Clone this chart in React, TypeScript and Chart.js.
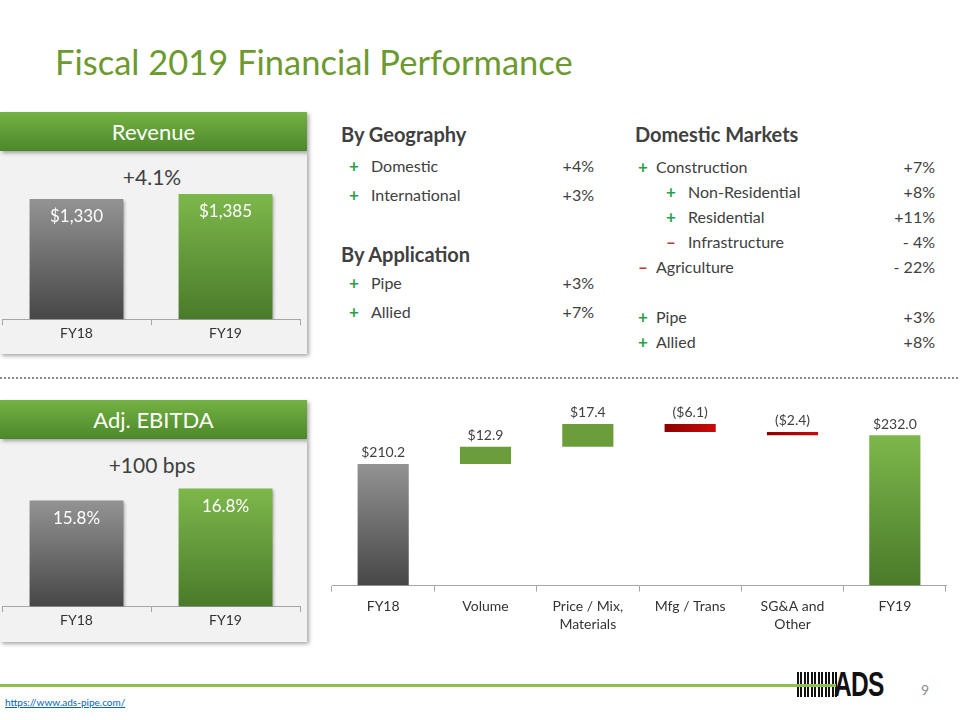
import React, { useEffect, useRef } from "react";
import { Chart, registerables } from "chart.js";
Chart.register(...registerables);

const FONT = "Lato, 'Open Sans', sans-serif";
const TEXT = "#404040";

// ---- data ----
const revenueCategories = ["FY18", "FY19"];
const revenueValues = [1330, 1385];
const revenueValueLabels = ["$1,330", "$1,385"];
const revenueChange = "+4.1%";

const ebitdaCategories = ["FY18", "FY19"];
const ebitdaValues = [15.8, 16.8];
const ebitdaValueLabels = ["15.8%", "16.8%"];
const ebitdaChange = "+100 bps";

const bridgeCategories = ["FY18", "Volume", ["Price / Mix,", "Materials"], "Mfg / Trans", ["SG&A and", "Other"], "FY19"];
const bridgeStart = 210.2;
const bridgeSteps = [12.9, 17.4, -6.1, -2.4];
const bridgeEnd = 232.0;
const bridgeValueLabels = ["$210.2", "$12.9", "$17.4", "($6.1)", "($2.4)", "$232.0"];

const geographyRows = [
  { sign: "+", label: "Domestic", value: "+4%" },
  { sign: "+", label: "International", value: "+3%" },
];
const applicationRows = [
  { sign: "+", label: "Pipe", value: "+3%" },
  { sign: "+", label: "Allied", value: "+7%" },
];
const domesticRows = [
  { sign: "+", label: "Construction", value: "+7%", indent: 0 },
  { sign: "+", label: "Non-Residential", value: "+8%", indent: 1 },
  { sign: "+", label: "Residential", value: "+11%", indent: 1 },
  { sign: "–", label: "Infrastructure", value: "- 4%", indent: 1 },
  { sign: "–", label: "Agriculture", value: "- 22%", indent: 0 },
  { sign: "", label: "", value: "", indent: 0 },
  { sign: "+", label: "Pipe", value: "+3%", indent: 0 },
  { sign: "+", label: "Allied", value: "+8%", indent: 0 },
];

// ---- helpers ----
const GRAY_GRAD = ["#939393", "#474747"];
const GREEN_GRAD = ["#7db84b", "#4a7a2a"];

function ok(...v: number[]) {
  return v.every((n) => typeof n === "number" && isFinite(n));
}

function vGrad(chart: any, top: number, bottom: number, c: string[]) {
  if (!ok(top, bottom)) return c[1];
  const g = chart.ctx.createLinearGradient(0, top, 0, bottom);
  g.addColorStop(0, c[0]);
  g.addColorStop(1, c[1]);
  return g;
}

const shadowPlugin = {
  id: "barShadow",
  beforeDatasetsDraw(chart: any) {
    const ctx = chart.ctx;
    ctx.save();
    ctx.shadowColor = "rgba(0,0,0,0.35)";
    ctx.shadowOffsetX = 2;
    ctx.shadowOffsetY = 2;
    ctx.shadowBlur = 3;
  },
  afterDatasetsDraw(chart: any) {
    chart.ctx.restore();
  },
};

function labelPlugin(labels: string[], inside: boolean) {
  return {
    id: "valueLabels",
    afterDatasetsDraw(chart: any) {
      const ctx = chart.ctx;
      const meta = chart.getDatasetMeta(0);
      ctx.save();
      ctx.textAlign = "center";
      ctx.textBaseline = "middle";
      meta.data.forEach((bar: any, i: number) => {
        const top = Math.min(bar.y, bar.base);
        if (inside) {
          ctx.font = `17px ${FONT}`;
          ctx.fillStyle = "#ffffff";
          ctx.fillText(labels[i], bar.x, top + 18);
        } else {
          ctx.font = `14px ${FONT}`;
          ctx.fillStyle = TEXT;
          ctx.fillText(labels[i], bar.x, top - 11);
        }
      });
      ctx.restore();
    },
  };
}

function xAxis(lineHeight: number, padding: number) {
  return {
    grid: { display: true, drawOnChartArea: false, drawTicks: true, tickLength: 6, color: "#a6a6a6", offset: true },
    border: { display: true, color: "#a6a6a6" },
    ticks: { color: "#333333", font: { family: FONT, size: 14, lineHeight }, padding, maxRotation: 0, autoSkip: false },
  };
}

function panelConfig(categories: string[], values: number[], labels: string[], yMin: number, yMax: number, padBottom: number) {
  return {
    type: "bar",
    data: {
      labels: categories,
      datasets: [
        {
          data: values,
          borderWidth: 0,
          barPercentage: 0.63,
          categoryPercentage: 1,
          backgroundColor: (c: any) => {
            const chart = c.chart;
            const colors = c.dataIndex === 0 ? GRAY_GRAD : GREEN_GRAD;
            const y = chart.scales && chart.scales.y;
            if (!y || !chart.chartArea || c.dataIndex === undefined) return colors[1];
            return vGrad(chart, y.getPixelForValue(values[c.dataIndex]), y.getPixelForValue(yMin), colors);
          },
        },
      ],
    },
    options: {
      responsive: false,
      animation: false,
      layout: { padding: { left: 2, right: 7, top: 0, bottom: padBottom } },
      plugins: { legend: { display: false }, tooltip: { enabled: false } },
      scales: {
        x: xAxis(1.2, 0),
        y: { display: false, min: yMin, max: yMax },
      },
    },
    plugins: [shadowPlugin, labelPlugin(labels, true)],
  };
}

const BRIDGE_MIN = 118;
const BRIDGE_MAX = 262.4;

function bridgeConfig() {
  const ranges: number[][] = [[BRIDGE_MIN, bridgeStart]];
  let run = bridgeStart;
  bridgeSteps.forEach((s) => {
    ranges.push([run, run + s]);
    run += s;
  });
  ranges.push([BRIDGE_MIN, bridgeEnd]);
  const last = ranges.length - 1;
  return {
    type: "bar",
    data: {
      labels: bridgeCategories,
      datasets: [
        {
          data: ranges,
          borderWidth: 0,
          borderSkipped: false,
          barPercentage: 0.5,
          categoryPercentage: 1,
          backgroundColor: (c: any) => {
            const chart = c.chart;
            const i = c.dataIndex;
            const y = chart.scales && chart.scales.y;
            const x = chart.scales && chart.scales.x;
            const fallback = i === 0 ? GRAY_GRAD[1] : i === last ? GREEN_GRAD[1] : "#6b9e3b";
            if (!y || !x || !chart.chartArea || i === undefined) return fallback;
            const r = ranges[i];
            const top = y.getPixelForValue(Math.max(r[0], r[1]));
            const bottom = y.getPixelForValue(Math.min(r[0], r[1]));
            if (i === 0) return vGrad(chart, top, bottom, GRAY_GRAD);
            if (i === last) return vGrad(chart, top, bottom, GREEN_GRAD);
            if (r[1] >= r[0]) return "#6b9e3b";
            const cx = x.getPixelForValue(i);
            const half = (chart.chartArea.width / ranges.length) * 0.25;
            if (!ok(cx, half)) return "#b00000";
            const g = chart.ctx.createLinearGradient(cx - half, 0, cx + half, 0);
            g.addColorStop(0, "#8c0000");
            g.addColorStop(1, "#cc0a0a");
            return g;
          },
        },
      ],
    },
    options: {
      responsive: false,
      animation: false,
      layout: { padding: { left: 12, right: 14, top: 0, bottom: 0 } },
      plugins: { legend: { display: false }, tooltip: { enabled: false } },
      scales: {
        x: xAxis(1.3, 6),
        y: { display: false, min: BRIDGE_MIN, max: BRIDGE_MAX },
      },
    },
    plugins: [labelPlugin(bridgeValueLabels, false)],
  };
}

function ChartCanvas(props: { left: number; top: number; width: number; height: number; config: () => any }) {
  const ref = useRef<HTMLCanvasElement>(null);
  useEffect(() => {
    const chart = new Chart(ref.current as HTMLCanvasElement, props.config());
    return () => chart.destroy();
  }, []);
  return (
    <canvas
      ref={ref}
      width={props.width}
      height={props.height}
      style={{ position: "absolute", left: props.left, top: props.top, width: props.width, height: props.height }}
    />
  );
}

function Txt(props: { x: number; y: number; size: number; children: any; bold?: boolean; color?: string; align?: "left" | "right" | "center"; w?: number }) {
  const h = Math.round(props.size * 1.4);
  const w = props.w || 300;
  let left = props.x;
  if (props.align === "right") left = props.x - w;
  if (props.align === "center") left = props.x - w / 2;
  return (
    <div
      style={{
        position: "absolute",
        left,
        top: props.y - h / 2,
        width: w,
        height: h,
        lineHeight: `${h}px`,
        fontSize: props.size,
        fontWeight: props.bold ? 700 : 400,
        color: props.color || TEXT,
        textAlign: props.align || "left",
        whiteSpace: "nowrap",
      }}
    >
      {props.children}
    </div>
  );
}

const signColor = (s: string) => (s === "+" ? "#2c9e4b" : "#c0392b");

function Panel(props: { top: number; title: string; change: string }) {
  const t = props.top;
  return (
    <>
      <div style={{ position: "absolute", left: 0, top: t + 39, width: 307, height: 203, background: "#f2f2f2", boxShadow: "2px 2px 4px rgba(0,0,0,0.35)" }} />
      <div
        style={{
          position: "absolute",
          left: 0,
          top: t,
          width: 307,
          height: 39,
          background: "linear-gradient(#74b244, #4c8829)",
          boxShadow: "2px 2px 4px rgba(0,0,0,0.35)",
          color: "#fff",
          fontSize: 22,
          lineHeight: "39px",
          textAlign: "center",
        }}
      >
        {props.title}
      </div>
      <Txt x={152} y={t + 64} size={21} align="center">
        {props.change}
      </Txt>
    </>
  );
}

export default function App() {
  return (
    <div style={{ position: "absolute", left: 0, top: 0, width: 960, height: 720, background: "#fff", fontFamily: FONT, color: TEXT, overflow: "hidden" }}>
      <Txt x={55} y={62} size={34.5} color="#6c9a2e" w={760}>
        Fiscal 2019 Financial Performance
      </Txt>

      <Panel top={112} title="Revenue" change={revenueChange} />
      <ChartCanvas left={0} top={160} width={307} height={190} config={() => panelConfig(revenueCategories, revenueValues, revenueValueLabels, 0, 1760, 8)} />

      <Panel top={400} title="Adj. EBITDA" change={ebitdaChange} />
      <ChartCanvas left={0} top={450} width={307} height={190} config={() => panelConfig(ebitdaCategories, ebitdaValues, ebitdaValueLabels, 7, 20, 11)} />

      {/* By Geography / By Application */}
      <Txt x={341} y={134} size={20} bold>
        By Geography
      </Txt>
      {geographyRows.map((r, i) => (
        <React.Fragment key={"g" + i}>
          <Txt x={354} y={166 + i * 29} size={17} bold color={signColor(r.sign)} align="center" w={20}>{r.sign}</Txt>
          <Txt x={371} y={166 + i * 29} size={16}>{r.label}</Txt>
          <Txt x={594} y={166 + i * 29} size={16} align="right" w={80}>{r.value}</Txt>
        </React.Fragment>
      ))}
      <Txt x={341} y={254} size={20} bold>
        By Application
      </Txt>
      {applicationRows.map((r, i) => (
        <React.Fragment key={"a" + i}>
          <Txt x={354} y={283 + i * 28.5} size={17} bold color={signColor(r.sign)} align="center" w={20}>{r.sign}</Txt>
          <Txt x={371} y={283 + i * 28.5} size={16}>{r.label}</Txt>
          <Txt x={594} y={283 + i * 28.5} size={16} align="right" w={80}>{r.value}</Txt>
        </React.Fragment>
      ))}

      {/* Domestic Markets */}
      <Txt x={635} y={134} size={20} bold>
        Domestic Markets
      </Txt>
      {domesticRows.map((r, i) =>
        r.label ? (
          <React.Fragment key={"d" + i}>
            <Txt x={643 + r.indent * 28} y={167 + i * 25} size={17} bold color={signColor(r.sign)} align="center" w={20}>{r.sign}</Txt>
            <Txt x={656 + r.indent * 32} y={167 + i * 25} size={16}>{r.label}</Txt>
            <Txt x={935} y={167 + i * 25} size={16} align="right" w={80}>{r.value}</Txt>
          </React.Fragment>
        ) : null
      )}

      {/* separator */}
      <div style={{ position: "absolute", left: 0, top: 377, width: 958, height: 0, borderTop: "2px dotted #8a8a8a" }} />

      {/* EBITDA bridge */}
      <ChartCanvas left={320} top={395} width={640} height={245} config={bridgeConfig} />

      {/* footer */}
      <div style={{ position: "absolute", left: 797, top: 672, width: 40, height: 25, background: "repeating-linear-gradient(90deg, #111 0px, #111 2px, #fff 2px, #fff 3.5px)" }} />
      <div style={{ position: "absolute", left: 834, top: 664, fontFamily: "'Liberation Sans', Arial, sans-serif", fontWeight: 700, fontSize: 35, lineHeight: "40px", color: "#111", transform: "scaleX(0.7)", transformOrigin: "left center", letterSpacing: -1 }}>
        ADS
      </div>
      <div style={{ position: "absolute", left: 0, top: 684, width: 836, height: 3, background: "#8dbf4e" }} />
      <Txt x={925} y={690} size={14} color="#8c8c8c" align="center" w={30}>
        9
      </Txt>
      <div style={{ position: "absolute", left: 5, top: 696, fontSize: 10, color: "#0563c1", textDecoration: "underline", fontFamily: FONT }}>https://www.ads-pipe.com/</div>
    </div>
  );
}
